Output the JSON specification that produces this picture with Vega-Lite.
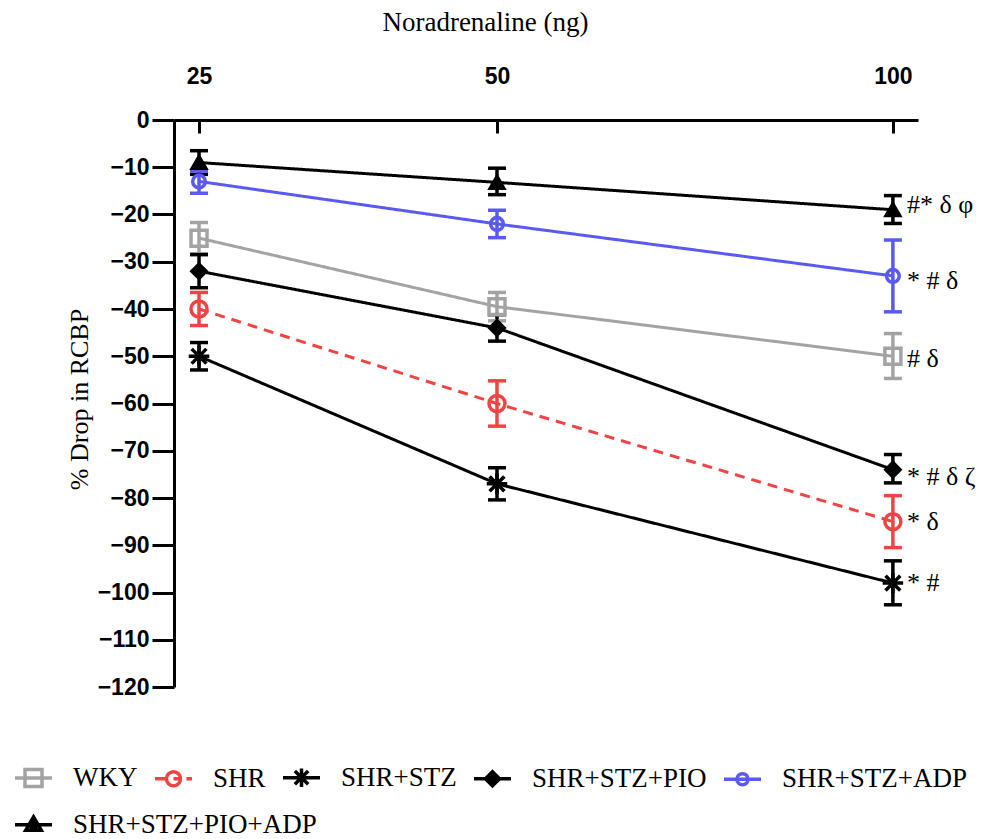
{
  "$schema": "https://vega.github.io/schema/vega-lite/v6.json",
  "width": 744,
  "height": 567,
  "autosize": {"type": "none"},
  "padding": {"left": 174, "top": 120, "right": 78, "bottom": 152},
  "background": "white",
  "datasets": {
    "main": [
      {"series": "WKY", "dose": 25, "mean": -25, "lo": -28.3, "hi": -21.7},
      {"series": "WKY", "dose": 50, "mean": -39.5, "lo": -42.5, "hi": -36.5},
      {"series": "WKY", "dose": 100, "mean": -50, "lo": -54.7, "hi": -45.2},
      {"series": "SHR", "dose": 25, "mean": -40, "lo": -43.5, "hi": -36.5},
      {"series": "SHR", "dose": 50, "mean": -60, "lo": -64.8, "hi": -55.2},
      {"series": "SHR", "dose": 100, "mean": -85, "lo": -90.5, "hi": -79.5},
      {"series": "SHR+STZ", "dose": 25, "mean": -50, "lo": -52.9, "hi": -47.1},
      {"series": "SHR+STZ", "dose": 50, "mean": -77, "lo": -80.4, "hi": -73.6},
      {"series": "SHR+STZ", "dose": 100, "mean": -98, "lo": -102.6, "hi": -93.3},
      {"series": "SHR+STZ+PIO", "dose": 25, "mean": -32, "lo": -35.5, "hi": -28.5},
      {"series": "SHR+STZ+PIO", "dose": 50, "mean": -44, "lo": -46.8, "hi": -41.2},
      {"series": "SHR+STZ+PIO", "dose": 100, "mean": -74, "lo": -76.8, "hi": -70.8},
      {"series": "SHR+STZ+ADP", "dose": 25, "mean": -13, "lo": -15.5, "hi": -10.8},
      {"series": "SHR+STZ+ADP", "dose": 50, "mean": -22, "lo": -24.9, "hi": -19.1},
      {"series": "SHR+STZ+ADP", "dose": 100, "mean": -33, "lo": -40.6, "hi": -25.4},
      {"series": "SHR+STZ+PIO+ADP", "dose": 25, "mean": -9, "lo": -11.5, "hi": -6.5},
      {"series": "SHR+STZ+PIO+ADP", "dose": 50, "mean": -13.2, "lo": -15.8, "hi": -10.2},
      {"series": "SHR+STZ+PIO+ADP", "dose": 100, "mean": -19, "lo": -21.9, "hi": -16}
    ],
    "notes": [
      {"dose": 100, "mean": -18, "label": "#* δ  φ"},
      {"dose": 100, "mean": -34, "label": "* # δ"},
      {"dose": 100, "mean": -50.5, "label": "# δ"},
      {"dose": 100, "mean": -75.5, "label": "* # δ ζ"},
      {"dose": 100, "mean": -85, "label": "* δ"},
      {"dose": 100, "mean": -98, "label": "* #"}
    ]
  },
  "encoding": {
    "x": {
      "field": "dose",
      "type": "quantitative",
      "scale": {"type": "pow", "exponent": 0.41, "domain": [23.35, 103.87], "nice": false, "zero": false},
      "axis": {"orient": "top", "values": [25, 50, 100], "title": "Noradrenaline (ng)"}
    }
  },
  "resolve": {"scale": {"color": "independent", "shape": "independent"}},
  "layer": [
    {
      "data": {"name": "main"},
      "mark": {"type": "point", "filled": false, "opacity": 0, "strokeWidth": 3.5},
      "encoding": {
        "y": {
          "field": "mean", "type": "quantitative",
          "scale": {"domain": [-120, 0], "nice": false, "zero": false},
          "axis": {"values": [-120, -110, -100, -90, -80, -70, -60, -50, -40, -30, -20, -10, 0], "labelOverlap": false},
          "title": "% Drop in RCBP"
        },
        "color": {
          "field": "series", "type": "nominal",
          "scale": {
            "domain": ["WKY", "SHR", "SHR+STZ", "SHR+STZ+PIO", "SHR+STZ+ADP", "SHR+STZ+PIO+ADP"],
            "range": ["#a3a3a3", "#f04444", "#000000", "#000000", "#5a5af2", "#000000"]
          },
          "legend": {"title": null, "values": ["WKY", "SHR", "SHR+STZ", "SHR+STZ+PIO", "SHR+STZ+ADP"], "orient": "none", "legendX": -161, "legendY": 637}
        },
        "shape": {
          "field": "series", "type": "nominal",
          "scale": {
            "domain": ["WKY", "SHR", "SHR+STZ", "SHR+STZ+PIO", "SHR+STZ+ADP", "SHR+STZ+PIO+ADP"],
            "range": [
              "M-1,0H1M-0.46,-0.46H0.46V0.46H-0.46Z",
              "M-1,0H-0.38M0,0H0.38M0.7,0H1M-0.38,0A0.38,0.38 0 1,1 0.38,0A0.38,0.38 0 1,1 -0.38,0Z",
              "M-1,0H1M0,-0.5V0.5M-0.36,-0.36L0.36,0.36M-0.36,0.36L0.36,-0.36",
              "M-1,0H1M0,-0.38L0.38,0L0,0.38L-0.38,0ZM0,-0.38V0.38M0,-0.2L0.2,0L0,0.2L-0.2,0Z",
              "M-1,0H1M-0.3,0A0.3,0.3 0 1,1 0.3,0A0.3,0.3 0 1,1 -0.3,0Z",
              "M-1,0H1M0,-0.42L0.42,0.3H-0.42ZM0,-0.3V0.3M-0.22,0.15H0.22"
            ]
          },
          "legend": {"title": null, "values": ["WKY", "SHR", "SHR+STZ", "SHR+STZ+PIO", "SHR+STZ+ADP"], "orient": "none", "legendX": -161, "legendY": 637}
        }
      }
    },
    {
      "data": {"name": "main"},
      "transform": [{"filter": "datum.series === 'SHR+STZ+PIO+ADP'"}],
      "mark": {"type": "point", "filled": false, "opacity": 0, "strokeWidth": 3.5, "color": "black"},
      "encoding": {
        "y": {"field": "mean", "type": "quantitative", "title": "% Drop in RCBP"},
        "shape": {
          "field": "series", "type": "nominal",
          "scale": {
            "domain": ["SHR+STZ+PIO+ADP"],
            "range": ["M-1,0H1M0,-0.42L0.42,0.3H-0.42ZM0,-0.3V0.3M-0.22,0.15H0.22"]
          },
          "legend": {"title": null, "orient": "none", "legendX": -161, "legendY": 684}
        }
      }
    },
    {
      "data": {"name": "main"},
      "mark": {"type": "line", "strokeWidth": 3},
      "encoding": {
        "y": {"field": "mean", "type": "quantitative", "title": "% Drop in RCBP"},
        "color": {
          "field": "series", "type": "nominal", "legend": null,
          "scale": {
            "domain": ["WKY", "SHR", "SHR+STZ", "SHR+STZ+PIO", "SHR+STZ+ADP", "SHR+STZ+PIO+ADP"],
            "range": ["#a3a3a3", "#f04444", "#000000", "#000000", "#5a5af2", "#000000"]
          }
        },
        "strokeDash": {
          "condition": {"test": "datum.series === 'SHR'", "value": [10, 7]},
          "value": [1, 0]
        }
      }
    },
    {
      "data": {"name": "main"},
      "mark": {"type": "rule", "strokeWidth": 3.5},
      "encoding": {
        "y": {"field": "lo", "type": "quantitative", "title": "% Drop in RCBP"},
        "y2": {"field": "hi"},
        "color": {
          "field": "series", "type": "nominal", "legend": null,
          "scale": {
            "domain": ["WKY", "SHR", "SHR+STZ", "SHR+STZ+PIO", "SHR+STZ+ADP", "SHR+STZ+PIO+ADP"],
            "range": ["#a3a3a3", "#f04444", "#000000", "#000000", "#5a5af2", "#000000"]
          }
        }
      }
    },
    {
      "data": {"name": "main"},
      "mark": {"type": "tick", "orient": "horizontal", "size": 18, "thickness": 3.5, "opacity": 1},
      "encoding": {
        "y": {"field": "lo", "type": "quantitative", "title": "% Drop in RCBP"},
        "color": {
          "field": "series", "type": "nominal", "legend": null,
          "scale": {
            "domain": ["WKY", "SHR", "SHR+STZ", "SHR+STZ+PIO", "SHR+STZ+ADP", "SHR+STZ+PIO+ADP"],
            "range": ["#a3a3a3", "#f04444", "#000000", "#000000", "#5a5af2", "#000000"]
          }
        }
      }
    },
    {
      "data": {"name": "main"},
      "mark": {"type": "tick", "orient": "horizontal", "size": 18, "thickness": 3.5, "opacity": 1},
      "encoding": {
        "y": {"field": "hi", "type": "quantitative", "title": "% Drop in RCBP"},
        "color": {
          "field": "series", "type": "nominal", "legend": null,
          "scale": {
            "domain": ["WKY", "SHR", "SHR+STZ", "SHR+STZ+PIO", "SHR+STZ+ADP", "SHR+STZ+PIO+ADP"],
            "range": ["#a3a3a3", "#f04444", "#000000", "#000000", "#5a5af2", "#000000"]
          }
        }
      }
    },
    {
      "data": {"name": "main"},
      "mark": {"type": "point", "filled": false, "strokeWidth": 3.5, "opacity": 1},
      "encoding": {
        "y": {"field": "mean", "type": "quantitative", "title": "% Drop in RCBP"},
        "color": {
          "field": "series", "type": "nominal", "legend": null,
          "scale": {
            "domain": ["WKY", "SHR", "SHR+STZ", "SHR+STZ+PIO", "SHR+STZ+ADP", "SHR+STZ+PIO+ADP"],
            "range": ["#a3a3a3", "#f04444", "#000000", "#000000", "#5a5af2", "#000000"]
          }
        },
        "shape": {
          "condition": [
            {"test": "datum.series === 'WKY'", "value": "square"},
            {"test": "datum.series === 'SHR' || datum.series === 'SHR+STZ+ADP'", "value": "circle"},
            {"test": "datum.series === 'SHR+STZ'", "value": "M0,-1V1M-1,0H1M-0.72,-0.72L0.72,0.72M-0.72,0.72L0.72,-0.72"},
            {"test": "datum.series === 'SHR+STZ+PIO'", "value": "diamond"}
          ],
          "value": "triangle-up"
        },
        "size": {
          "condition": [
            {"test": "datum.series === 'SHR+STZ'", "value": 420},
            {"test": "datum.series === 'SHR+STZ+ADP'", "value": 160},
            {"test": "datum.series === 'SHR+STZ+PIO'", "value": 200},
            {"test": "datum.series === 'SHR+STZ+PIO+ADP'", "value": 180}
          ],
          "value": 256
        },
        "fill": {
          "condition": {"test": "datum.series === 'SHR+STZ+PIO' || datum.series === 'SHR+STZ+PIO+ADP'", "value": "black"},
          "value": "transparent"
        }
      }
    },
    {
      "data": {"name": "notes"},
      "mark": {"type": "text", "align": "left", "baseline": "middle", "dx": 14, "font": "Liberation Serif", "fontSize": 26, "color": "black"},
      "encoding": {
        "y": {"field": "mean", "type": "quantitative", "title": "% Drop in RCBP"},
        "text": {"field": "label", "type": "nominal"}
      }
    }
  ],
  "config": {
    "view": {"stroke": null},
    "legend": {
      "direction": "horizontal",
      "columns": 5,
      "columnPadding": 10,
      "rowPadding": 14,
      "symbolSize": 1369,
      "symbolStrokeWidth": 3.5,
      "symbolOpacity": 1,
      "symbolFillColor": "transparent",
      "labelFont": "Liberation Serif",
      "labelFontSize": 27,
      "labelColor": "black",
      "labelOffset": 19,
      "labelLimit": 0
    },
    "axisX": {
      "domainColor": "black", "domainWidth": 3, "tickColor": "black", "tickWidth": 3, "tickSize": -13,
      "labelFont": "Liberation Sans", "labelFontWeight": "bold", "labelFontSize": 23, "labelColor": "black", "labelPadding": 45,
      "grid": false,
      "titleFont": "Liberation Serif", "titleFontWeight": "normal", "titleFontSize": 27, "titleColor": "black",
      "titleX": 311, "titleY": -90, "titleAlign": "center", "titleBaseline": "alphabetic"
    },
    "axisY": {
      "domainColor": "black", "domainWidth": 3, "tickColor": "black", "tickWidth": 3, "tickSize": 22,
      "labelFont": "Liberation Sans", "labelFontWeight": "bold", "labelFontSize": 23, "labelColor": "black", "labelPadding": 3,
      "grid": false,
      "titleFont": "Liberation Serif", "titleFontWeight": "normal", "titleFontSize": 26, "titleColor": "black",
      "titleX": -87, "titleY": 279, "titleAngle": -90, "titleAlign": "center", "titleBaseline": "alphabetic"
    }
  }
}
